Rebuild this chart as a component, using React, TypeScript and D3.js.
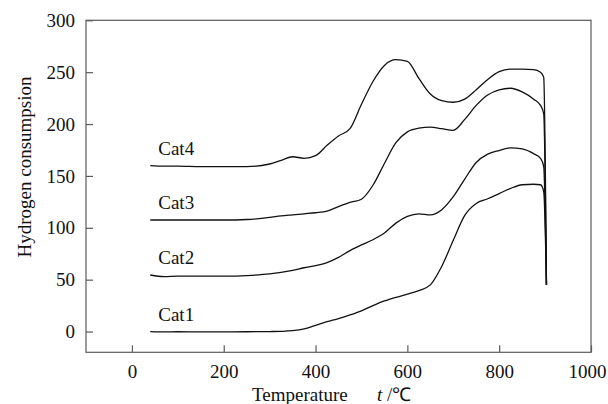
import { useRef, useEffect } from 'react';
import * as d3 from 'd3';

// temperature grid (℃) shared by all four TPR traces
const temps = [40, 70, 100, 150, 200, 250, 300, 325, 350, 375, 400, 425, 450, 475, 500, 525, 550, 575, 600, 625, 650, 675, 700, 725, 750, 775, 800, 825, 850, 875, 890, 897, 903];

const cat1 = [0, -0.3, -0.2, -0.3, -0.3, -0.2, 0, 0.2, 0.8, 2.5, 6, 9.5, 12.5, 16, 20, 25, 29.5, 33, 36, 39.5, 45, 63, 88, 112, 123.5, 128, 133, 138, 141.5, 142, 141.5, 135, 45];
const cat2 = [54.5, 53, 53.5, 53.5, 53.5, 54, 55.5, 57, 59, 61.5, 63.5, 66.5, 71.5, 78, 83.5, 88.5, 95, 104.5, 111, 113.5, 112.5, 117.5, 130, 147, 163, 171, 174.5, 177, 176, 171.5, 167, 159, 45];
const cat3 = [107.5, 107.5, 107.5, 107.5, 107.5, 108, 110, 111.5, 112.5, 113.5, 114.5, 116, 120.5, 124.5, 127.5, 141, 162, 182, 192.5, 196, 197, 195.5, 194, 204.5, 218, 228, 233, 234.5, 231, 224, 218, 210, 45];
const cat4 = [160, 159.5, 159.5, 159, 159, 159, 161.5, 165, 168.5, 167, 169.5, 179.5, 188.5, 195.5, 219, 241, 256.5, 262, 260.5, 244, 229, 222.5, 221, 224, 233, 243, 250.5, 253, 253, 252.5, 250, 245, 45];

const seriesNames = ['Cat1', 'Cat2', 'Cat3', 'Cat4'];
const seriesValues = [cat1, cat2, cat3, cat4];

const xTicks = [0, 200, 400, 600, 800, 1000];
const yTicks = [0, 50, 100, 150, 200, 250, 300];

const W = 608;
const H = 404;
const FONT = '"Liberation Serif", "Times New Roman", serif';

export default function App() {
  const svgRef = useRef<SVGSVGElement>(null);

  function renderChart() {
    const svg = d3.select(svgRef.current);
    svg.selectAll('*').remove();
    svg.attr('viewBox', [0, 0, W, H]).style('font-family', FONT);

    const left = 86, right = 591, top = 20.3, bottom = 352.3;
    const x = d3.scaleLinear().domain([-100, 1000]).range([left, right]);
    const y = d3.scaleLinear().domain([-20, 300]).range([bottom, top]);
    const axisColor = '#5a5a5a';

    const xAxis = svg
      .append('g')
      .attr('transform', `translate(0,${bottom})`)
      .call(d3.axisBottom(x).tickValues(xTicks).tickSizeInner(-7).tickSizeOuter(0).tickPadding(12).tickFormat(d3.format('d')));
    const yAxis = svg
      .append('g')
      .attr('transform', `translate(${left},0)`)
      .call(d3.axisLeft(y).tickValues(yTicks).tickSizeInner(-7).tickSizeOuter(0).tickPadding(11).tickFormat(d3.format('d')));

    [xAxis, yAxis].forEach(g => {
      g.select('.domain').remove();
      g.selectAll('line').attr('stroke', axisColor).attr('stroke-width', 1.2);
      g.selectAll('text').attr('fill', '#111').style('font-size', '19px').style('font-family', FONT);
    });
    // keep the last x label inside the page
    xAxis.selectAll('text').filter(d => d === 1000).attr('dx', -4);

    // frame box
    svg
      .append('rect')
      .attr('x', left)
      .attr('y', top)
      .attr('width', right - left)
      .attr('height', bottom - top)
      .attr('fill', 'none')
      .attr('stroke', axisColor)
      .attr('stroke-width', 1.2);

    const line = d3
      .line<number>()
      .x((d, i) => x(temps[i]))
      .y(d => y(d))
      .curve(d3.curveMonotoneX);

    const traces = svg
      .append('g')
      .selectAll('g')
      .data(seriesValues)
      .join('g');

    traces
      .append('path')
      .attr('d', d => line(d))
      .attr('fill', 'none')
      .attr('stroke', '#111')
      .attr('stroke-width', 1.3);

    traces
      .append('text')
      .attr('x', d => x(temps[0]) + 8)
      .attr('y', d => y(d[0]) - 11)
      .style('font-size', '19px')
      .attr('fill', '#111')
      .text((d, i) => seriesNames[i]);

    // axis titles
    const xt = svg
      .append('text')
      .attr('y', 401)
      .style('font-size', '19px')
      .attr('fill', '#111');
    xt.append('tspan').attr('x', 252).text('Temperature');
    xt.append('tspan').attr('x', 377).style('font-style', 'italic').text('t');
    xt.append('tspan').text(' /℃');

    svg
      .append('text')
      .attr('transform', 'translate(31,167) rotate(-90)')
      .attr('text-anchor', 'middle')
      .style('font-size', '19px')
      .attr('fill', '#111')
      .text('Hydrogen consumpsion');
  }

  useEffect(() => {
    renderChart();
  }, []);

  return (
    <div style={{ position: 'absolute', left: 0, top: 0 }}>
      <svg ref={svgRef} width={W} height={H} style={{ display: 'block', background: '#fff' }} />
    </div>
  );
}
